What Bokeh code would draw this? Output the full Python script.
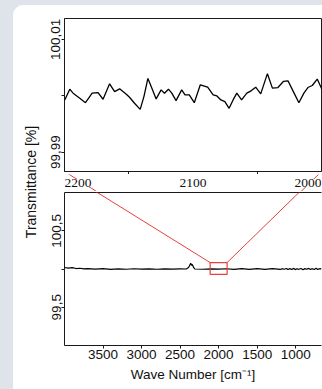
from bokeh.plotting import figure
from bokeh.models import Range1d, FixedTicker, LinearAxis, Div, Arrow
from bokeh.layouts import row, column
from bokeh.embed import file_html
from bokeh.resources import INLINE

# ---------------- data ----------------
# zoomed spectrum (2200 - 2000 cm-1)
zoom_wn = [2199.8, 2195.9, 2193.3, 2188.1, 2183.7, 2181.2, 2178.5, 2173.9, 2170.0, 2164.9,
           2161.0, 2157.1, 2151.9, 2149.4, 2145.5, 2141.1, 2138.2, 2135.1, 2132.0, 2128.7,
           2124.8, 2122.2, 2119.1, 2116.5, 2113.2, 2108.8, 2106.2, 2102.9, 2099.0, 2094.3,
           2088.6, 2084.3, 2081.4, 2078.3, 2075.2, 2071.9, 2068.8, 2065.9, 2062.2, 2058.1,
           2054.5, 2051.2, 2047.3, 2042.1, 2038.2, 2033.9, 2029.7, 2026.1, 2021.9, 2017.6,
           2013.7, 2010.6, 2007.2, 2003.3, 1999.5]
zoom_t = [99.99925, 100.00116, 100.00045, 99.99955, 99.99876, 99.99955, 100.00045, 100.00056, 99.99937, 100.00211,
          100.00073, 100.00122, 100.00027, 99.99973, 99.99866, 99.99758, 99.99984, 100.00306, 100.00134, 99.99943,
          100.00104, 100.00045, 100.00116, 100.00045, 99.99912, 100.00104, 100.00014, 100.00014, 99.99876, 100.00194,
          100.00152, 100.00014, 99.99996, 99.99925, 99.99894, 99.99776, 99.99925, 100.00045, 99.99925, 100.00045,
          100.00091, 100.00152, 100.00032, 100.00391, 100.00134, 100.00145, 100.00253, 100.00265, 100.00073, 99.99876,
          100.00045, 100.00145, 100.00181, 100.00296, 100.00104]

# full spectrum
full_wn = [4000, 3950, 3900, 3850, 3800, 3750, 3700, 3600, 3500, 3400,
           3300, 3200, 3100, 3000, 2900, 2800, 2700, 2600, 2500, 2420,
           2390, 2375, 2362, 2352, 2341, 2325, 2310, 2200, 2100, 2000,
           1900, 1800, 1700, 1600, 1500, 1400, 1300, 1200, 1170, 1150,
           1120, 1100, 1080, 1050, 1030, 1000, 985, 960, 930, 905,
           880, 860, 830, 810, 790, 760, 735, 715, 690, 665]
full_t = [100.020, 100.012, 100.018, 100.006, 100.010, 100.002, 100.006, 99.998, 100.004, 99.996,
          100.002, 99.997, 100.003, 99.998, 100.002, 99.997, 100.001, 99.998, 100.001, 100.000,
          100.020, 100.050, 100.075, 100.050, 100.058, 100.020, 100.000, 99.997, 100.002, 99.998,
          100.003, 99.996, 100.005, 99.996, 100.004, 99.995, 100.005, 99.994, 100.004, 99.996,
          100.007, 99.993, 100.004, 99.995, 100.008, 99.992, 100.003, 99.996, 100.007, 99.991,
          100.005, 99.997, 100.008, 99.993, 100.004, 99.994, 100.009, 99.995, 100.004, 100.001]

zoom_xticks = [2200, 2100, 2000]
zoom_xlabel_align = ["left", "center", "right"]
zoom_xminor = [2150, 2050]
zoom_yticks = [99.99, 100.01]
zoom_ylabels = ["99,99", "100,01"]
zoom_yminor = [100.0]
full_xticks = [3500, 3000, 2500, 2000, 1500, 1000]
full_yticks = [99.5, 100.5]
full_ylabels = ["99,5", "100,5"]
full_yminor = [100.0]
zoom_box_x = [2110, 1890]
zoom_box_y = [99.929, 100.084]

# ---------------- styling ----------------
FONT = "Liberation Sans"
FS = "13.5px"
AX = "#1a1a1a"
TXT = "#111111"
RED = "#e8403c"

TOP_X = (2200, 2000)
TOP_Y = (99.98655, 100.0137)
BOT_X = (4000, 665)
BOT_Y = (99.0, 101.0)
STRIP_Y = (0.0, 1.0)

# page-pixel geometry of the frames (for the zoom connector lines)
TOP_FRAME_LEFT, TOP_FRAME_RIGHT, TOP_FRAME_BOTTOM = 63, 321, 171
STRIP_TOP, STRIP_BOTTOM = 174, 191
BOT_FRAME_LEFT, BOT_FRAME_RIGHT, BOT_FRAME_TOP, BOT_FRAME_BOTTOM = 64, 322, 192, 345


def lin(v, a0, a1, b0, b1):
    return b0 + (v - a0) * (b1 - b0) / (a1 - a0)


def style_axis(ax):
    ax.axis_line_color = AX
    ax.axis_line_width = 1
    ax.major_tick_line_color = AX
    ax.major_tick_out = 3
    ax.major_tick_in = 0
    ax.minor_tick_line_color = AX
    ax.minor_tick_out = 3
    ax.minor_tick_in = 0
    ax.major_label_text_font = FONT
    ax.major_label_text_font_size = FS
    ax.major_label_text_color = TXT
    ax.major_label_standoff = 1


# ---------------- top (zoom) plot ----------------
top = figure(width=279, height=169, x_range=Range1d(*TOP_X), y_range=Range1d(*TOP_Y),
             output_backend="svg", toolbar_location=None,
             min_border_left=20, min_border_right=1, min_border_top=13, min_border_bottom=3)
top.xgrid.visible = False
top.ygrid.visible = False
top.outline_line_color = AX
top.outline_line_width = 1
top.background_fill_color = "white"
top.border_fill_color = "white"
top.line(zoom_wn, zoom_t, line_color="black", line_width=1.3)

xa = top.below[0]
style_axis(xa)
xa.ticker = FixedTicker(ticks=[], minor_ticks=zoom_xminor)
xa.major_label_standoff = 0

ya = top.left[0]
style_axis(ya)
ya.ticker = FixedTicker(ticks=zoom_yticks, minor_ticks=zoom_yminor)
ya.major_label_overrides = dict(zip(zoom_yticks, zoom_ylabels))
ya.major_label_orientation = "vertical"

# ---------------- strip with the zoom plot's x tick labels ----------------
strip = figure(width=279, height=STRIP_BOTTOM - STRIP_TOP, x_range=Range1d(*TOP_X),
               y_range=Range1d(*STRIP_Y), output_backend="svg", toolbar_location=None,
               x_axis_location=None, y_axis_location=None,
               min_border_left=20, min_border_right=1, min_border_top=0, min_border_bottom=0)
strip.grid.visible = False
strip.outline_line_color = None
strip.background_fill_color = "white"
strip.border_fill_color = "white"

# ---------------- bottom (full) plot ----------------
bot = figure(width=279, height=198, x_range=Range1d(*BOT_X), y_range=Range1d(*BOT_Y),
             output_backend="svg", toolbar_location=None,
             min_border_left=21, min_border_right=0, min_border_top=1, min_border_bottom=44)
bot.xgrid.visible = False
bot.ygrid.visible = False
bot.outline_line_color = None
bot.background_fill_color = "white"
bot.border_fill_color = "white"
bot.line(full_wn, full_t, line_color="black", line_width=1.2)

bxa = bot.below[0]
bya = bot.left[0]

top_line = LinearAxis(ticker=FixedTicker(ticks=[]), major_tick_out=0, minor_tick_out=0,
                      major_label_standoff=0, axis_line_color=AX, axis_line_width=1)
bot.add_layout(top_line, "above")

style_axis(bxa)
bxa.ticker = FixedTicker(ticks=full_xticks, minor_ticks=[])
bxa.axis_label = "Wave Number [cm\u207b\u00b9]"
bxa.axis_label_text_font = FONT
bxa.axis_label_text_font_size = FS
bxa.axis_label_text_font_style = "normal"
bxa.axis_label_text_color = TXT
bxa.axis_label_standoff = 5

style_axis(bya)
bya.ticker = FixedTicker(ticks=full_yticks, minor_ticks=full_yminor)
bya.major_label_overrides = dict(zip(full_yticks, full_ylabels))
bya.major_label_orientation = "vertical"

# zoom rectangle
bot.quad(left=[zoom_box_x[0]], right=[zoom_box_x[1]], bottom=[zoom_box_y[0]], top=[zoom_box_y[1]],
         fill_color=None, line_color=RED, line_width=1.2)

# ---------------- connector lines ----------------
rect_px = [lin(zoom_box_x[0], BOT_X[0], BOT_X[1], BOT_FRAME_LEFT, BOT_FRAME_RIGHT),
           lin(zoom_box_x[1], BOT_X[0], BOT_X[1], BOT_FRAME_LEFT, BOT_FRAME_RIGHT)]
rect_py = lin(zoom_box_y[1], BOT_Y[0], BOT_Y[1], BOT_FRAME_BOTTOM, BOT_FRAME_TOP)
corner_px = [TOP_FRAME_LEFT, TOP_FRAME_RIGHT]

for cpx, bx in zip(corner_px, zoom_box_x):
    cx = lin(cpx, BOT_FRAME_LEFT, BOT_FRAME_RIGHT, BOT_X[0], BOT_X[1])
    cy = lin(TOP_FRAME_BOTTOM, BOT_FRAME_BOTTOM, BOT_FRAME_TOP, BOT_Y[0], BOT_Y[1])
    bot.add_layout(Arrow(end=None, x_start=cx, y_start=cy, x_end=bx, y_end=zoom_box_y[1],
                         line_color=RED, line_width=1))

for cpx, rx in zip(corner_px, rect_px):
    sx0 = lin(cpx, TOP_FRAME_LEFT, TOP_FRAME_RIGHT, TOP_X[0], TOP_X[1])
    sx1 = lin(rx, TOP_FRAME_LEFT, TOP_FRAME_RIGHT, TOP_X[0], TOP_X[1])
    sy0 = lin(TOP_FRAME_BOTTOM, STRIP_BOTTOM, STRIP_TOP, STRIP_Y[0], STRIP_Y[1])
    sy1 = lin(rect_py, STRIP_BOTTOM, STRIP_TOP, STRIP_Y[0], STRIP_Y[1])
    strip.segment(x0=[sx0], y0=[sy0], x1=[sx1], y1=[sy1], line_color=RED, line_width=1)

# tick labels of the zoom plot, on white boxes that hide the connector lines
for tick, align in zip(zoom_xticks, zoom_xlabel_align):
    strip.text(x=[tick], y=[(STRIP_Y[0] + STRIP_Y[1]) / 2], text=[str(tick)],
               text_align=align, text_baseline="middle", text_font=FONT,
               text_font_size=FS, text_color=TXT, background_fill_color="white")

# ---------------- shared y label ----------------
ylab = Div(text=('<div style="position:absolute;left:18px;top:177px;'
                 'transform:translate(-50%,-50%) rotate(-90deg);white-space:nowrap;'
                 "font-family:'Liberation Sans';font-size:14px;color:#111111;\">"
                 'Transmittance [%]</div>'),
           width=30, height=384, margin=(0, 0, 0, 0))

layout = row(ylab, column(top, strip, bot, spacing=0), spacing=0,
             styles={"position": "absolute", "left": "13px", "top": "5px",
                     "background-color": "white", "border-top-left-radius": "10px",
                     "box-shadow": "0 0 0 20px #dfe4ea"})

open("out.html", "w").write(file_html(layout, INLINE))
